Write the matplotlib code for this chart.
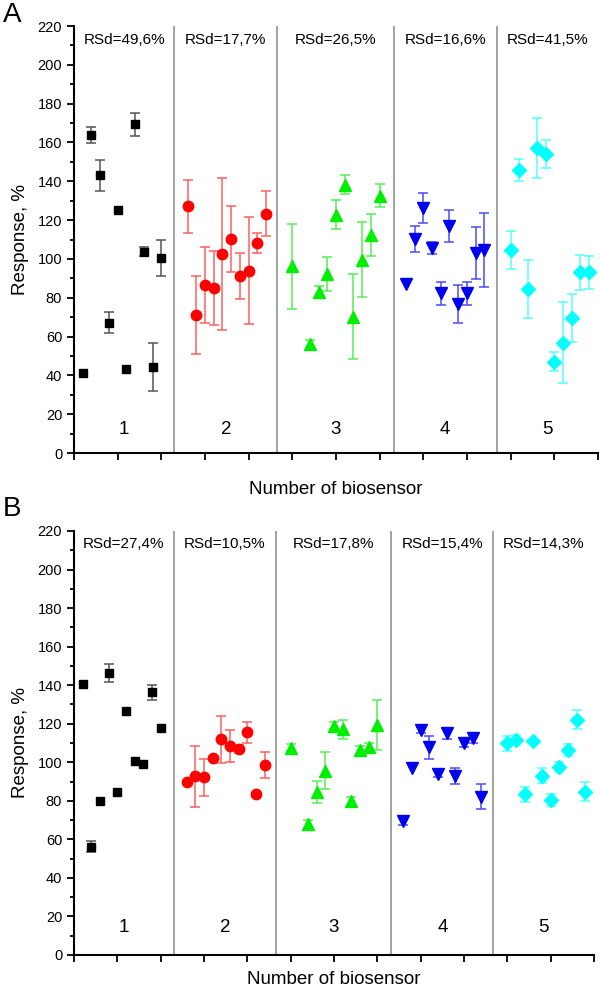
import numpy as np
import matplotlib
matplotlib.use('Agg')
import matplotlib.pyplot as plt

plt.rcParams['font.family'] = ['Liberation Sans', 'DejaVu Sans']

# x positions of the sensors inside each group (same for both panels)
x_g1 = [1, 2, 3, 4, 5, 6, 7, 8, 9, 10]
x_g2 = [13, 14, 15, 16, 17, 18, 19, 20, 21, 22]
x_g3 = [25, 27, 28, 29, 30, 31, 32, 33, 34, 35]
x_g4 = [38, 39, 40, 41, 42, 43, 44, 45, 46, 47]
x_g5 = [50, 51, 52, 53, 54, 55, 56, 57, 58, 59]

# panel A
a_y1 = [41.4, 163.8, 143.1, 67.2, 125.0, 43.1, 169.3, 103.6, 44.3, 100.7]
a_e1 = [0, 4.3, 8.0, 5.5, 0, 0, 5.8, 2.3, 12.6, 9.3]
a_y2 = [127.2, 71.2, 86.7, 85.0, 102.6, 110.3, 91.4, 94.0, 108.1, 123.3]
a_e2 = [13.7, 20.0, 19.6, 19.0, 39.0, 17.0, 11.8, 27.6, 5.0, 11.6]
a_y3 = [96.2, 56.2, 83.1, 92.4, 122.8, 138.3, 70.3, 99.7, 112.4, 132.6]
a_e3 = [22.0, 2.0, 2.8, 8.7, 7.6, 5.0, 22.0, 19.4, 10.9, 6.0]
a_y4 = [87.2, 110.3, 126.2, 105.5, 82.4, 116.9, 76.7, 82.4, 103.1, 104.5]
a_e4 = [0, 6.7, 7.8, 3.0, 5.9, 8.4, 9.7, 5.9, 13.6, 19.0]
a_y5 = [104.5, 146.0, 84.5, 157.1, 154.3, 46.9, 56.9, 69.5, 93.1, 93.1]
a_e5 = [9.8, 5.7, 15.0, 15.6, 7.2, 4.9, 21.0, 12.4, 9.1, 8.5]
a_rsd = ['RSd=49,6%', 'RSd=17,7%', 'RSd=26,5%', 'RSd=16,6%', 'RSd=41,5%']

# panel B
b_y1 = [140.7, 56.2, 79.8, 146.4, 84.3, 126.5, 100.7, 99.1, 136.2, 118.0]
b_e1 = [0, 2.9, 0, 4.8, 0, 0, 0, 0, 3.9, 0]
b_y2 = [90.0, 92.6, 92.2, 102.2, 111.8, 108.5, 106.7, 115.6, 83.4, 98.6]
b_e2 = [0, 16.0, 9.6, 0, 12.3, 8.3, 2.0, 5.4, 0, 6.9]
b_y3 = [107.6, 67.8, 84.4, 95.7, 118.9, 117.1, 79.9, 106.4, 107.8, 119.4]
b_e3 = [2.0, 2.0, 5.8, 9.7, 1.8, 4.8, 2.0, 2.0, 2.0, 12.8]
b_y4 = [69.7, 97.2, 116.8, 107.8, 93.9, 115.0, 92.9, 109.9, 112.5, 82.2]
b_e4 = [2.5, 0, 1.5, 6.0, 1.5, 3.0, 4.3, 2.0, 2.5, 6.7]
b_y5 = [109.9, 111.6, 83.4, 111.2, 93.1, 80.4, 97.4, 106.4, 122.0, 84.8]
b_e5 = [3.9, 2.6, 3.9, 0, 3.7, 3.3, 2.6, 3.1, 5.0, 5.0]
b_rsd = ['RSd=27,4%', 'RSd=10,5%', 'RSd=17,8%', 'RSd=15,4%', 'RSd=14,3%']

group_names = ['1', '2', '3', '4', '5']
dividers = [11.5, 23.3, 36.6, 48.4]

xs = [x_g1, x_g2, x_g3, x_g4, x_g5]
markers = ['s', 'o', '^', 'v', 'D']
msizes = [6, 7.5, 8.5, 8.5, 7]
colors = ['#000000', '#ff0000', '#00ee00', '#0000ee', '#00ffff']
ecolors = ['#555555', '#ff6060', '#55ee55', '#4a4aff', '#55ffff']


def draw_panel(ax, ys, es, rsd, num_y, xpad):
    for i in range(5):
        # no error bar drawn where the error is zero
        err = np.array(es[i], dtype=float)
        err[err == 0] = np.nan
        ax.errorbar(xs[i], ys[i], yerr=err, fmt=markers[i], color=colors[i],
                    ms=msizes[i], mec=colors[i], mfc=colors[i], ecolor=ecolors[i],
                    elinewidth=1.1, capsize=3.5, capthick=1.1)
    for d in dividers:
        ax.axvline(d, color='#888888', lw=1.1, zorder=0)
    edges = [0] + dividers + [60]
    for i in range(5):
        mid = (edges[i] + edges[i + 1]) / 2
        ax.text(mid, 213, rsd[i], ha='center', va='center', fontsize=11)
        ax.text(mid, num_y, group_names[i], ha='center', va='center', fontsize=13.5)
    ax.set_xlim(0, 60)
    ax.set_ylim(0, 220)
    ax.set_xticks(np.arange(0, 61, 5))
    ax.set_xticklabels([])
    ax.set_yticks(np.arange(0, 221, 20))
    ax.set_yticks(np.arange(0, 221, 10), minor=True)
    ax.tick_params(axis='y', which='major', length=5, width=1.3, labelsize=10.5)
    ax.tick_params(axis='y', which='minor', length=3, width=1.3)
    ax.tick_params(axis='x', length=5, width=1.3)
    ax.spines['top'].set_visible(False)
    ax.spines['right'].set_visible(False)
    ax.spines['left'].set_linewidth(1.5)
    ax.spines['bottom'].set_linewidth(1.5)
    ax.set_ylabel('Response, %', fontsize=13.5, labelpad=6)
    ax.set_xlabel('Number of biosensor', fontsize=13.5, labelpad=xpad)


fig = plt.figure(figsize=(6, 9.93), dpi=100)
ax_a = fig.add_axes([0.1233, 0.5438, 0.8733, 0.43])
ax_b = fig.add_axes([0.1233, 0.0383, 0.8667, 0.427])

draw_panel(ax_a, [a_y1, a_y2, a_y3, a_y4, a_y5], [a_e1, a_e2, a_e3, a_e4, a_e5], a_rsd, 12, 12)
draw_panel(ax_b, [b_y1, b_y2, b_y3, b_y4, b_y5], [b_e1, b_e2, b_e3, b_e4, b_e5], b_rsd, 14, 3)

fig.text(0.005, 0.985, 'A', fontsize=20, va='center', ha='left')
fig.text(0.005, 0.487, 'B', fontsize=20, va='center', ha='left')

fig.savefig('out.png', dpi=100)
